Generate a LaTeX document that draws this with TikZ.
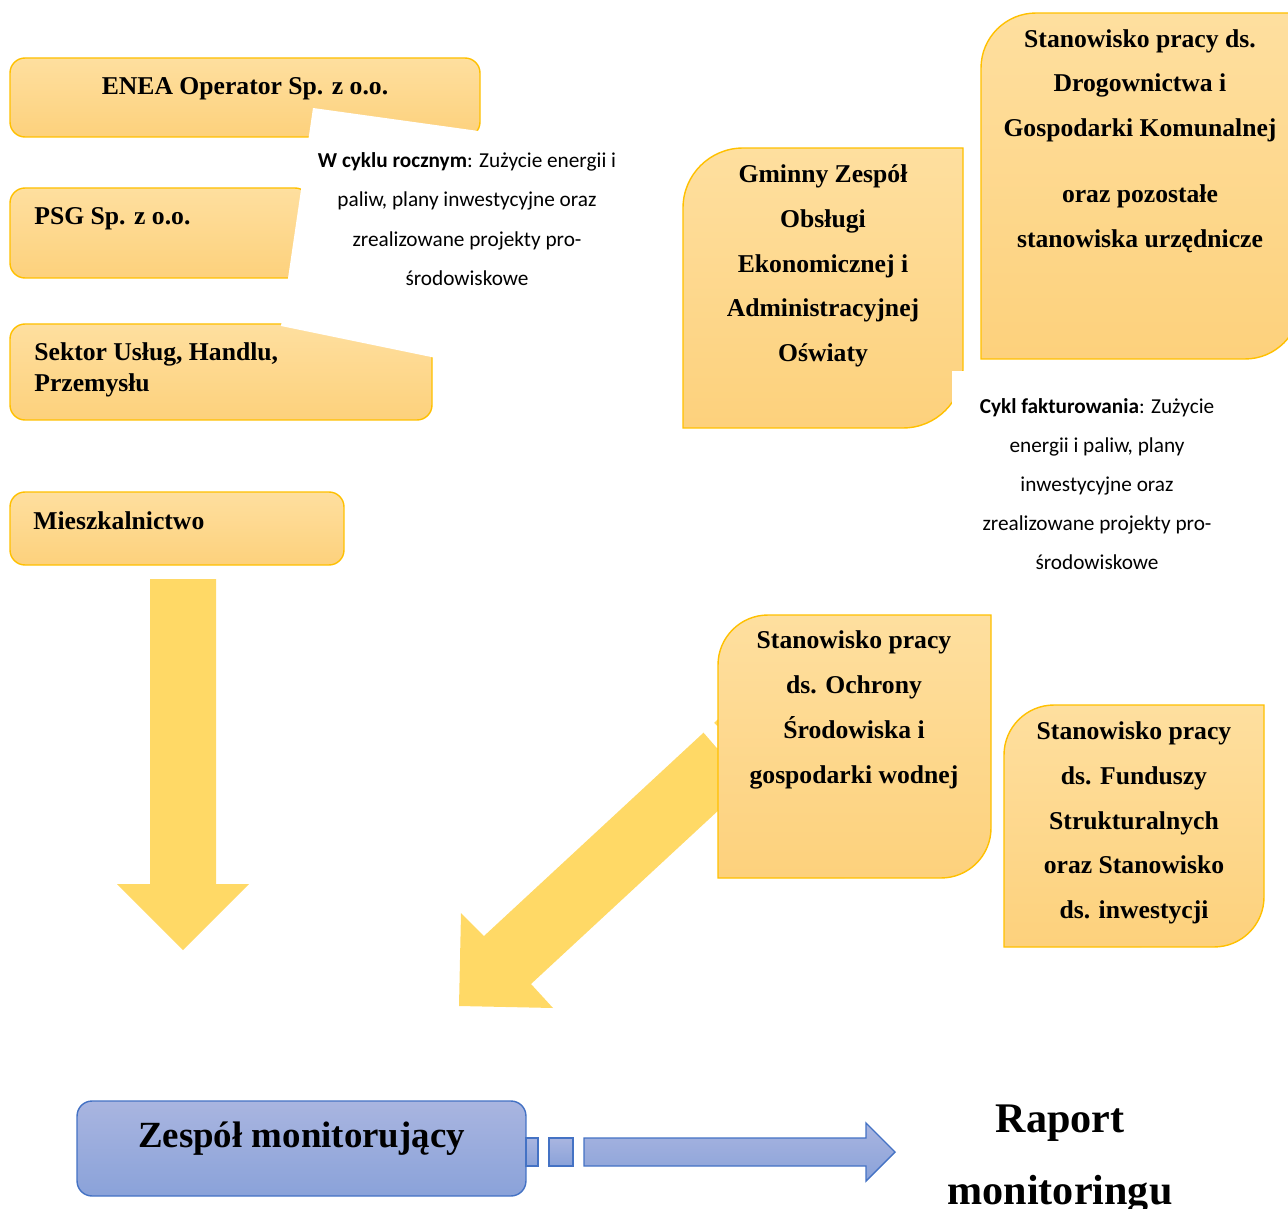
\documentclass[tikz,border=0pt]{standalone}
\usepackage{fontspec}
\setmainfont{Liberation Serif}
\newfontfamily\notefont{Carlito}
\usepackage{xcolor}
\usepackage{tikz}
\usetikzlibrary{positioning}
\definecolor{poletop}{HTML}{FEDF9F}
\definecolor{poledol}{HTML}{FDD17C}
\definecolor{ramka}{HTML}{FFC000}
\definecolor{zolta}{HTML}{FFD966}
\definecolor{niebtop}{HTML}{A9B5E0}
\definecolor{niebdol}{HTML}{8AA2D9}
\definecolor{niebramka}{HTML}{4472C4}

\begin{document}
\begin{tikzpicture}[
    x=0.02cm,y=0.02cm,
    pole/.style     = {draw=ramka,line width=0.8pt,top color=poletop,
                       bottom color=poledol},
    strzalka/.style = {fill=zolta,draw=none},
    niebieska/.style= {draw=niebramka,line width=0.8pt,top color=niebtop,
                       bottom color=niebdol},
    zespolbox/.style= {niebieska,rounded corners=0.3cm,minimum width=8.98cm,
                       minimum height=1.9cm,inner sep=0pt,
                       font=\fontsize{21}{25}\selectfont\bfseries,text depth=0.54cm},
    napis/.style    = {font=\fontsize{14.6}{25.5}\selectfont\bfseries,
                       align=center,inner sep=0pt},
    lewy/.style     = {napis,align=left,anchor=west},
    opis/.style     = {font=\notefont\fontsize{12.1}{22.4}\selectfont,
                       align=center,inner sep=0pt},
  ]
  \useasboundingbox (0,0) rectangle (1288,-1209);

  % strzalki
  \path[strzalka] (150,-579) -- (216,-579) -- (216,-884) -- (249,-884)
        -- (183,-950) -- (117,-884) -- (150,-884) -- cycle;
  \path[strzalka] (728,-710) -- (484,-936) -- (461,-913) -- (459,-1006)
        -- (553,-1008) -- (531,-984) -- (775,-758) -- cycle;

  % pola po lewej
  \draw[pole,rounded corners=0.3cm] (10,-58) rectangle (480,-137);
  \draw[pole,rounded corners=0.3cm] (10,-188) rectangle (310,-278);
  \draw[pole,rounded corners=0.3cm] (10,-324) rectangle (432,-420);
  \draw[pole,rounded corners=0.3cm] (10,-492) rectangle (344,-565);

  % pola po prawej
  \draw[pole] (683,-208) arc[start angle=180,end angle=90,radius=1.2cm]
        -- (963,-148) -- (963,-368) arc[start angle=0,end angle=-90,radius=1.2cm]
        -- (683,-428) -- cycle;
  \draw[pole] (981,-68) arc[start angle=180,end angle=90,radius=1.1cm]
        -- (1300,-13) -- (1300,-304) arc[start angle=0,end angle=-90,radius=1.1cm]
        -- (981,-359) -- cycle;
  \draw[pole] (718,-665) arc[start angle=180,end angle=90,radius=1cm]
        -- (991,-615) -- (991,-828) arc[start angle=0,end angle=-90,radius=1cm]
        -- (718,-878) -- cycle;
  \draw[pole] (1004,-755) arc[start angle=180,end angle=90,radius=1cm]
        -- (1264,-705) -- (1264,-897) arc[start angle=0,end angle=-90,radius=1cm]
        -- (1004,-947) -- cycle;

  % pola tekstowe (biale)
  \fill[white] (313,-108) -- (500,-134) -- (470,-365) -- (281,-326) -- cycle;
  \fill[white] (952,-371) rectangle (1250,-600);
  \fill[white] (701,-729.5) -- (711.5,-720) -- (717,-726) -- (717,-748) -- cycle;

  \node[napis] (enea) at (245,-89) {ENEA Operator Sp. z o.o.};
  \node[lewy] (psg) at (34,-219) {PSG Sp. z o.o.};
  \node[lewy,font=\fontsize{14.6}{17.6}\selectfont\bfseries] (sektor) at (34,-370)
       {Sektor Usług, Handlu,\\Przemysłu};
  \node[lewy] (mieszk) at (33,-521) {Mieszkalnictwo};

  \node[opis] (roczny) at (467,-219) {\textbf{W cyklu rocznym}: Zużycie energii i\\
        paliw, plany inwestycyjne oraz\\zrealizowane projekty pro-\\środowiskowe};

  \node[napis] (gzoeaso) at (823,-266) {Gminny Zespół\\Obsługi\\Ekonomicznej i\\
        Administracyjnej\\Oświaty};
  \node[napis] (drog) at (1140,-141) {Stanowisko pracy ds.\\Drogownictwa i\\
        Gospodarki Komunalnej\\[11.9pt]oraz pozostałe\\stanowiska urzędnicze};
  \node[opis,font=\notefont\fontsize{12.1}{22.1}\selectfont] (faktura) at (1097,-484)
       {\textbf{Cykl fakturowania}: Zużycie\\energii i paliw, plany\\inwestycyjne oraz\\
        zrealizowane projekty pro-\\środowiskowe};

  \node[napis] (ochrona) at (854,-710) {Stanowisko pracy\\ds. Ochrony\\Środowiska i\\
        gospodarki wodnej};
  \node[napis] (fundusze) at (1134,-823) {Stanowisko pracy\\ds. Funduszy\\
        Strukturalnych\\oraz Stanowisko\\ds. inwestycji};

  % dol
  \node[zespolbox] (zespol) at (301.5,-1148.5) {Zespół monitorujący};
  \draw[niebieska] (526,-1138) rectangle (538,-1166);
  \draw[niebieska] (549,-1138) rectangle (573,-1166);
  \draw[niebieska] (584,-1138) -- (866,-1138) -- (866,-1123) -- (895,-1152)
        -- (866,-1181) -- (866,-1166) -- (584,-1166) -- cycle;
  \node[napis,font=\fontsize{24}{41}\selectfont\bfseries] (raport) at (1060,-1159)
       {Raport\\monitoringu};

\end{tikzpicture}
\end{document}
